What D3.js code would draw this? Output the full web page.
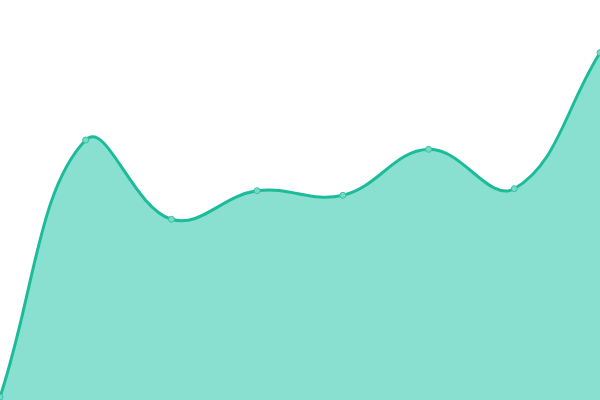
<!DOCTYPE html>
<html><head><meta charset="utf-8">
<script src="https://cdn.jsdelivr.net/npm/d3@7"></script>
<style>html,body{margin:0;padding:0;background:#fff;overflow:hidden}</style>
</head><body>
<svg id="c" width="600" height="400"></svg>
<script>
const categories = ["A","B","C","D","E","F","G","H"];
const values = [3, 260, 180.7, 209.3, 204.7, 250.7, 211.3, 347.3];

const W = 600, H = 400;
const TENSION = 0.4;

// Custom d3 curve: tension spline (control points from neighbour distances), capped to the plot area
function SplineCurve(context) { this._context = context; }
SplineCurve.prototype = {
  areaStart() { this._line = 0; },
  areaEnd() { this._line = NaN; },
  lineStart() { this._pts = []; },
  point(x, y) { this._pts.push([+x, +y]); },
  lineEnd() {
    const p = this._pts, n = p.length, ctx = this._context;
    if (n) {
      if (this._line) ctx.lineTo(p[0][0], p[0][1]); else ctx.moveTo(p[0][0], p[0][1]);
      const cps = p.map((cur, i) => {
        const prev = p[Math.max(0, i - 1)], next = p[Math.min(n - 1, i + 1)];
        const d01 = Math.hypot(cur[0] - prev[0], cur[1] - prev[1]);
        const d12 = Math.hypot(next[0] - cur[0], next[1] - cur[1]);
        let s01 = d01 / (d01 + d12), s12 = d12 / (d01 + d12);
        if (isNaN(s01)) s01 = 0; if (isNaN(s12)) s12 = 0;
        const fa = TENSION * s01, fb = TENSION * s12;
        const cap = (v, lo, hi) => Math.max(lo, Math.min(hi, v));
        return {
          px: cap(cur[0] - fa * (next[0] - prev[0]), 0, W),
          py: cap(cur[1] - fa * (next[1] - prev[1]), 0, H),
          nx: cap(cur[0] + fb * (next[0] - prev[0]), 0, W),
          ny: cap(cur[1] + fb * (next[1] - prev[1]), 0, H)
        };
      });
      for (let i = 1; i < n; i++) {
        ctx.bezierCurveTo(cps[i-1].nx, cps[i-1].ny, cps[i].px, cps[i].py, p[i][0], p[i][1]);
      }
    }
    if (this._line || (this._line !== 0 && n === 1)) ctx.closePath();
    this._line = 1 - this._line;
  }
};
const curveSpline = ctx => new SplineCurve(ctx);

const svg = d3.select("#c");
const x = d3.scalePoint().domain(categories).range([0, W]);
const y = d3.scaleLinear().domain([0, 400]).range([H, 0]);
const data = categories.map((c, i) => ({c, v: values[i]}));

const area = d3.area().x(d => x(d.c)).y0(y(0)).y1(d => y(d.v)).curve(curveSpline);
const line = d3.line().x(d => x(d.c)).y(d => y(d.v)).curve(curveSpline);

svg.append("path").datum(data).attr("d", area).attr("fill", "#89e0d0");
svg.append("path").datum(data).attr("d", line).attr("fill", "none")
  .attr("stroke", "#1cbb99").attr("stroke-width", 3);
svg.selectAll("circle").data(data).enter().append("circle")
  .attr("cx", d => x(d.c)).attr("cy", d => y(d.v)).attr("r", 3)
  .attr("fill", "#7ad9c6").attr("stroke", "#33c4a7").attr("stroke-width", 1);
</script>
</body></html>
